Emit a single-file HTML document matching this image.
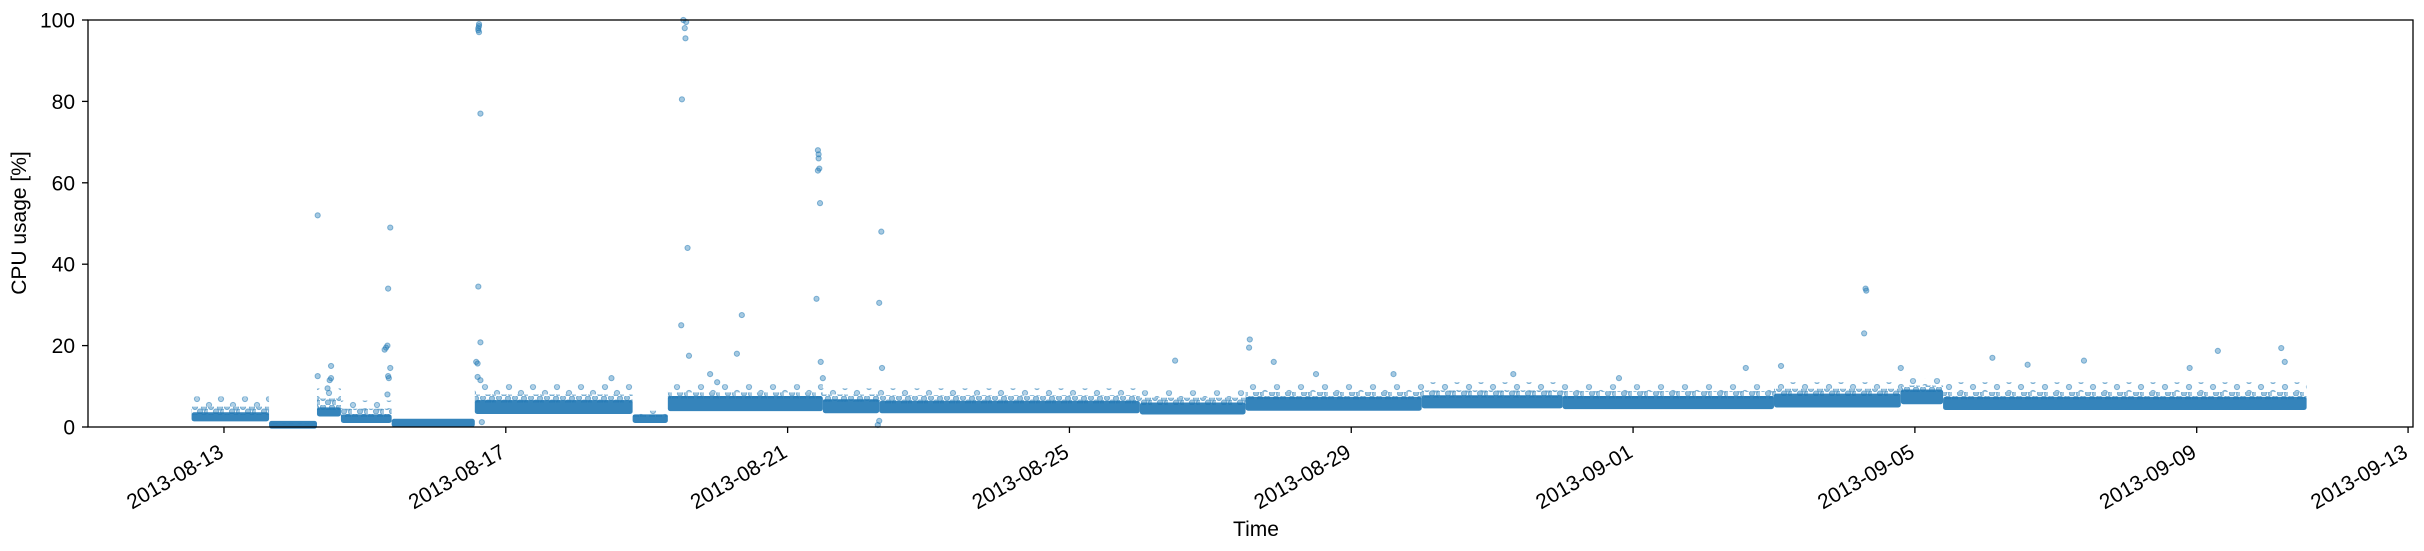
<!DOCTYPE html>
<html><head><meta charset="utf-8"><style>
html,body{margin:0;padding:0;background:#fff;}
svg{display:block;font-family:"Liberation Sans","DejaVu Sans",sans-serif;}
</style></head><body>
<svg id="chart" width="2424" height="551" viewBox="0 0 2424 551" xmlns="http://www.w3.org/2000/svg">
<defs>
<pattern id="hazeDense" width="16" height="9" patternUnits="userSpaceOnUse">
<circle cx="3" cy="2" r="2.6" fill="#1f77b4" fill-opacity="0.45" stroke="#1f77b4" stroke-opacity="0.5"/>
<circle cx="8" cy="6.5" r="2.6" fill="#1f77b4" fill-opacity="0.45" stroke="#1f77b4" stroke-opacity="0.5"/>
<circle cx="12" cy="2.5" r="2.6" fill="#1f77b4" fill-opacity="0.45" stroke="#1f77b4" stroke-opacity="0.5"/>
<circle cx="15" cy="7" r="2.6" fill="#1f77b4" fill-opacity="0.4" stroke="#1f77b4" stroke-opacity="0.5"/>
</pattern>
<pattern id="hazeSparse" width="24" height="12" patternUnits="userSpaceOnUse">
<circle cx="5" cy="3" r="2.6" fill="#1f77b4" fill-opacity="0.35" stroke="#1f77b4" stroke-opacity="0.5"/>
<circle cx="17" cy="9" r="2.6" fill="#1f77b4" fill-opacity="0.35" stroke="#1f77b4" stroke-opacity="0.5"/>
</pattern>
</defs>
<g id="plot"></g>
<g id="axes"></g>
</svg>
<script>
// ---- data (day offsets from 2013-08-13 00:00) ----
const bandStart = [-0.46, 0.64, 1.32, 1.66, 2.38, 3.56, 5.8, 6.3, 8.5, 9.3, 13.0, 14.5, 17.0, 19.0, 22.0, 23.8, 24.4];
const bandEnd   = [0.64, 1.32, 1.66, 2.38, 3.56, 5.8, 6.3, 8.5, 9.3, 13.0, 14.5, 17.0, 19.0, 22.0, 23.8, 24.4, 29.56];
const bandLow   = [2.0, 0.2, 3.2, 1.6, 0.6, 3.8, 1.6, 4.5, 4.0, 4.0, 3.7, 4.6, 5.2, 5.0, 5.4, 6.2, 4.8];
const bandHigh  = [3.0, 0.9, 4.2, 2.5, 1.4, 6.0, 2.5, 7.0, 6.2, 5.8, 5.4, 6.8, 7.2, 7.0, 7.6, 8.6, 6.8];
const hazeMid   = [5.0, 1.0, 7.0, 4.5, 1.4, 8.0, 3.0, 8.5, 8.0, 7.8, 7.2, 8.6, 9.0, 8.8, 9.4, 10.2, 8.6];
const hazeTop   = [7.5, 1.0, 9.5, 6.5, 1.4, 10.5, 4.0, 10.5, 9.5, 9.5, 9.0, 10.5, 11.0, 10.5, 11.0, 12.0, 11.0];
const outlierT = [1.33,1.33,1.52,1.52,1.50,1.47,2.36,2.33,2.32,2.30,2.28,2.33,2.34,2.36,2.32,
 3.62,3.62,3.61,3.61,3.62,3.64,3.61,3.64,3.58,3.60,3.60,3.64,3.66,
 6.52,6.56,6.54,6.55,6.50,6.58,6.49,6.60,6.90,7.35,7.28,
 8.43,8.44,8.44,8.45,8.43,8.46,8.41,8.47,8.50,
 9.33,9.30,9.34,9.28,9.30,
 5.5,7.0,13.5,14.56,14.55,14.9,15.5,23.3,23.31,23.28,23.8,25.1,25.6,26.4,27.9,28.3,29.2,29.25,16.6,18.3,19.8,21.6,22.1];
const outlierV = [52,12.5,15,12,11.5,9.5,49,34,20,19.5,19,12.5,12,14.5,8,
 99,98.5,98,97.5,97,77,34.5,20.8,16,15.6,12.3,11.5,1.2,
 100,99.5,98,95.5,80.5,44,25,17.5,13,27.5,18,
 68,67,66,63.5,63,55,31.5,16,12,
 48,30.5,14.5,0.5,1.5,
 12,11,16.3,21.5,19.5,16,13,34,33.5,23,14.5,17,15.3,16.3,14.5,18.7,19.4,16,13,13,12,14.5,15];
const xTickDays = [0,4,8,12,16,20,24,28,31];
const xTickLabels = ["2013-08-13","2013-08-17","2013-08-21","2013-08-25","2013-08-29","2013-09-01","2013-09-05","2013-09-09","2013-09-13"];
const yTicks = [0,20,40,60,80,100];

// ---- scales ----
const X0=88, X1=2413, Y0=427, Y1=20;
const dMin=-1.93, dMax=31.07;
function xs(d){return X0+(d-dMin)/(dMax-dMin)*(X1-X0);}
function ys(v){return Y0-(v/100)*(Y0-Y1);}
const NS="http://www.w3.org/2000/svg";
const plot=document.getElementById('plot'), axes=document.getElementById('axes');
function mk(tag,attrs,parent){const e=document.createElementNS(NS,tag);for(const k in attrs)e.setAttribute(k,attrs[k]);parent.appendChild(e);return e;}

for(let i=0;i<bandStart.length;i++){
  const x=xs(bandStart[i]), w=xs(bandEnd[i])-x;
  if(hazeTop[i]>hazeMid[i]){
    const hs=mk('rect',{x:x,y:ys(hazeTop[i]),width:w,height:ys(hazeMid[i])-ys(hazeTop[i]),fill:'url(#hazeSparse)'},plot);
    
    
  }
  if(hazeMid[i]>bandHigh[i]){
    const hd=mk('rect',{x:x,y:ys(hazeMid[i]),width:w,height:ys(bandHigh[i])-ys(hazeMid[i]),fill:'url(#hazeDense)'},plot);
    
    
  }
  const b=mk('rect',{x:x,y:ys(bandHigh[i])-2.5,width:w,height:ys(bandLow[i])-ys(bandHigh[i])+5,rx:2.5,fill:'#1f77b4','fill-opacity':0.9},plot);
  
  
}
for(let i=0;i<outlierT.length;i++){
  const c=mk('circle',{cx:xs(outlierT[i]),cy:ys(outlierV[i]),r:2.6,fill:'#1f77b4','fill-opacity':0.4,stroke:'#1f77b4','stroke-opacity':0.5,'stroke-width':1},plot);
  
  
}
const fr=mk('rect',{x:X0,y:Y1,width:X1-X0,height:Y0-Y1,fill:'none',stroke:'#000','stroke-width':1.3},axes);


for(const v of yTicks){
  const t=mk('line',{x1:X0-6,x2:X0,y1:ys(v),y2:ys(v),stroke:'#000','stroke-width':1.3},axes);
  
  
  const l=mk('text',{x:X0-13,y:ys(v)+7.5,'text-anchor':'end','font-size':21,fill:'#000'},axes);
  l.textContent=v;
  
  
}
for(let i=0;i<xTickDays.length;i++){
  const x=xs(xTickDays[i]);
  const t=mk('line',{x1:x,x2:x,y1:Y0,y2:Y0+6,stroke:'#000','stroke-width':1.3},axes);
  
  
  const ax=x+1, ay=Y0+29;
  const l=mk('text',{x:ax,y:ay,'text-anchor':'end','font-size':21,fill:'#000',transform:`rotate(-30 ${ax} ${ay})`},axes);
  l.textContent=xTickLabels[i];
  
  
}
</script>
<div style="position:absolute;left:1196px;top:518px;width:120px;text-align:center;font:21px 'Liberation Sans',sans-serif;">Time</div>
<div style="position:absolute;left:-70px;top:211px;width:180px;text-align:center;font:21px 'Liberation Sans',sans-serif;transform:rotate(-90deg);">CPU usage [%]</div>
</body></html>
